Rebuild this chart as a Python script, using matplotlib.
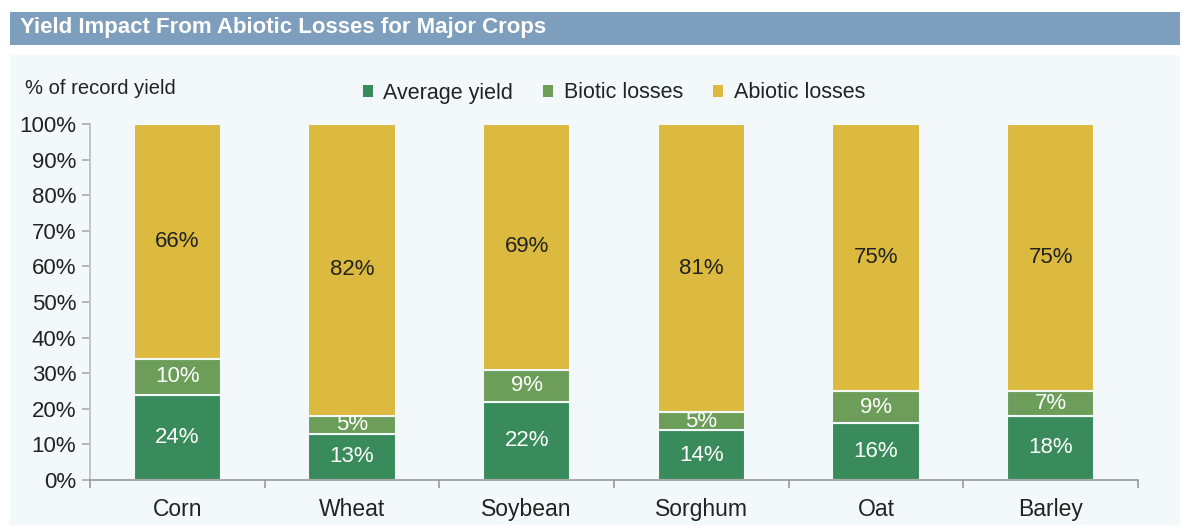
import matplotlib.pyplot as plt
from matplotlib.patches import Patch, Rectangle

crops = ["Corn", "Wheat", "Soybean", "Sorghum", "Oat", "Barley"]
average_yield = [24, 13, 22, 14, 16, 18]
biotic_losses = [10, 5, 9, 5, 9, 7]
abiotic_losses = [66, 82, 69, 81, 75, 75]
y_ticks = [0, 10, 20, 30, 40, 50, 60, 70, 80, 90, 100]

series = [
    ("Average yield", average_yield, "#3a8b5b", "white"),
    ("Biotic losses", biotic_losses, "#6c9e5a", "white"),
    ("Abiotic losses", abiotic_losses, "#dbba3f", "#222222"),
]

W, H = 1192, 528
fig = plt.figure(figsize=(W / 100, H / 100), dpi=100)
fig.patch.set_facecolor("white")
plt.rcParams["font.family"] = ["Liberation Sans", "DejaVu Sans"]

# light panel behind the chart
fig.patches.append(Rectangle((10 / W, 3 / H), 1170 / W, (H - 55 - 3) / H,
                             transform=fig.transFigure, facecolor="#f3f9fb",
                             edgecolor="none", zorder=-10))
# title bar
fig.patches.append(Rectangle((10 / W, 1 - 45 / H), 1170 / W, 33 / H,
                             transform=fig.transFigure, facecolor="#7e9ebe",
                             edgecolor="none", zorder=-10))
fig.text(20 / W, 1 - 28 / H, "Yield Impact From Abiotic Losses for Major Crops",
         color="white", fontsize=16, fontweight="bold", va="center", ha="left")
fig.text(25 / W, 1 - 88 / H, "% of record yield", color="#222222",
         fontsize=14.5, va="center", ha="left")

ax = fig.add_axes([90 / W, 48 / H, (1138 - 90) / W, (480 - 124) / H])
ax.set_facecolor("none")

x = list(range(len(crops)))
bottom = [0] * len(crops)
for name, vals, color, txt in series:
    bars = ax.bar(x, vals, width=0.5, bottom=bottom, color=color,
                  edgecolor="#f3f9fb", linewidth=1.5, label=name, zorder=2)
    for xi, b, v in zip(x, bottom, vals):
        ax.text(xi, b + v / 2, f"{v}%", ha="center", va="center",
                color=txt, fontsize=16, zorder=3)
    bottom = [b + v for b, v in zip(bottom, vals)]

ax.set_xlim(-0.5, len(crops) - 0.5)
ax.set_ylim(0, 100)
ax.set_yticks(y_ticks)
ax.set_yticklabels([f"{t}%" for t in y_ticks], fontsize=16, color="#222222")
ax.set_xticks(x)
ax.set_xticklabels(crops, fontsize=16.5, color="#222222")
ax.set_xticks([i - 0.5 for i in range(len(crops) + 1)], minor=True)
ax.tick_params(axis="x", which="major", length=0, pad=13)
ax.tick_params(axis="x", which="minor", length=6, color="#999999", width=1.2)
ax.tick_params(axis="y", length=6, color="#aaaaaa", width=1.2, pad=4)
for side in ["top", "right"]:
    ax.spines[side].set_visible(False)
ax.spines["left"].set_color("#bbbbbb")
ax.spines["left"].set_linewidth(1.2)
ax.spines["bottom"].set_color("#999999")
ax.spines["bottom"].set_linewidth(1.2)

handles = [Patch(facecolor=c, edgecolor="none", label=n) for n, _, c, _ in series]
fig.legend(handles=handles, loc="center", ncol=3, frameon=False,
           bbox_to_anchor=(614 / W, 1 - 93 / H), fontsize=15.5,
           handlelength=0.45, handleheight=0.45, handletextpad=0.5,
           columnspacing=1.4, labelcolor="#222222")

fig.savefig("out.png", dpi=100)
